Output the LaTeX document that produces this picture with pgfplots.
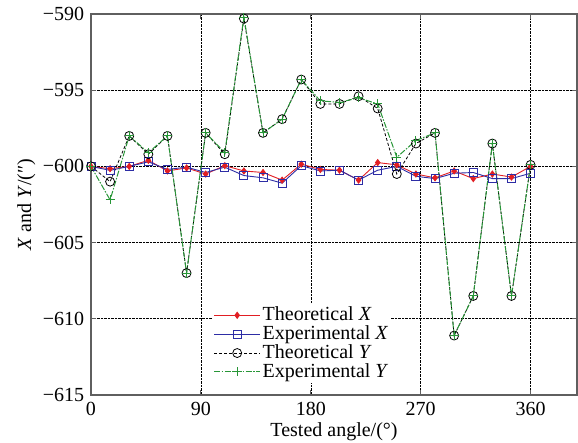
\documentclass[border=0pt]{standalone}
\usepackage{fontspec}
\setmainfont{Liberation Serif}
\usepackage{pgfplots}
\pgfplotsset{compat=1.18}
\definecolor{cred}{RGB}{225,30,35}
\definecolor{cblue}{RGB}{45,45,165}
\definecolor{cgreen}{RGB}{40,150,55}
\definecolor{caxis}{RGB}{95,95,95}
\begin{document}
\fontsize{20}{24}\selectfont
\begin{tikzpicture}
\begin{axis}[
  scale only axis,
  width=486pt, height=381pt,
  xmin=0, xmax=398, ymin=-615, ymax=-590,
  xtick={0,90,180,270,360},
  ytick={-615,-610,-605,-600,-595,-590},
  yticklabels={−615,−610,−605,−600,−595,−590},
  /pgf/number format/assume math mode=true,
  tick label style={font=\fontsize{20}{24}\selectfont},
  label style={font=\fontsize{20}{24}\selectfont},
  xlabel={Tested angle/(°)},
  ylabel={\textit{X} and \textit{Y}/(″)},
  xlabel style={yshift=6pt},
  ylabel style={yshift=-6pt},
  grid=major,
  major grid style={black, densely dotted, line width=0.6pt},
  axis line style={caxis, line width=1.2pt},
  tick style={caxis, line width=0.8pt},
  tick align=inside,
  major tick length=5pt,
  legend cell align=left,
  legend style={draw=none, fill=white, at={(0.25,0.03)}, anchor=south west,
    font=\fontsize{20}{22}\selectfont, inner sep=1pt, row sep=-2pt},
  legend image code/.code={\draw[mark repeat=2, mark phase=2] plot coordinates {(0pt,0pt) (23pt,0pt) (46pt,0pt)};},
]
\coordinate (O) at (rel axis cs:0,0);
\addplot[cred, line width=0.9pt, mark=diamond*, mark size=3pt] table {
x y
0 -600
15.652 -600.15
31.304 -600.0
46.957 -599.6
62.609 -600.3
78.261 -600.1
93.913 -600.5
109.565 -599.95
125.217 -600.3
140.870 -600.4
156.522 -600.9
172.174 -599.85
187.826 -600.2
203.478 -600.25
219.130 -600.9
234.783 -599.75
250.435 -599.9
266.087 -600.5
281.739 -600.75
297.391 -600.3
313.043 -600.8
328.696 -600.5
344.348 -600.7
360 -600.0
};
\addlegendentry{Theoretical \textit{X}}
\addplot[cblue, line width=0.9pt, mark=square, mark size=4pt, mark options={solid}] table {
x y
0 -600
15.652 -600.26
31.304 -600.0
46.957 -599.7
62.609 -600.2
78.261 -600.05
93.913 -600.4
109.565 -600.05
125.217 -600.6
140.870 -600.75
156.522 -601.1
172.174 -599.95
187.826 -600.3
203.478 -600.25
219.130 -600.9
234.783 -600.25
250.435 -600.0
266.087 -600.65
281.739 -600.8
297.391 -600.45
313.043 -600.4
328.696 -600.8
344.348 -600.8
360 -600.45
};
\addlegendentry{Experimental \textit{X}}
\addplot[black, densely dashed, line width=0.8pt, mark=o, mark size=4.5pt, mark options={solid}] table {
x y
0 -600
15.652 -601.0
31.304 -598.0
46.957 -599.2
62.609 -598.0
78.261 -607.0
93.913 -597.8
109.565 -599.2
125.217 -590.3
140.870 -597.8
156.522 -596.9
172.174 -594.3
187.826 -595.9
203.478 -595.9
219.130 -595.4
234.783 -596.2
250.435 -600.5
266.087 -598.5
281.739 -597.8
297.391 -611.1
313.043 -608.5
328.696 -598.5
344.348 -608.5
360 -599.9
};
\addlegendentry{Theoretical \textit{Y}}
\addplot[cgreen, dash pattern=on 6pt off 1.5pt on 1.5pt off 1.5pt, line width=1pt, mark=+, mark size=4.5pt, mark options={solid}] table {
x y
0 -600
15.652 -602.2
31.304 -598.0
46.957 -599.1
62.609 -598.0
78.261 -607.0
93.913 -597.8
109.565 -599.1
125.217 -590.2
140.870 -597.8
156.522 -596.9
172.174 -594.3
187.826 -595.7
203.478 -595.8
219.130 -595.5
234.783 -595.9
250.435 -599.4
266.087 -598.3
281.739 -597.8
297.391 -611.1
313.043 -608.5
328.696 -598.5
344.348 -608.5
360 -599.9
};
\addlegendentry{Experimental \textit{Y}}
\end{axis}
\pgfresetboundingbox
\path[use as bounding box] ([shift={(-91pt,-48pt)}]O) rectangle ([shift={(487pt,395pt)}]O);
\end{tikzpicture}
\end{document}
